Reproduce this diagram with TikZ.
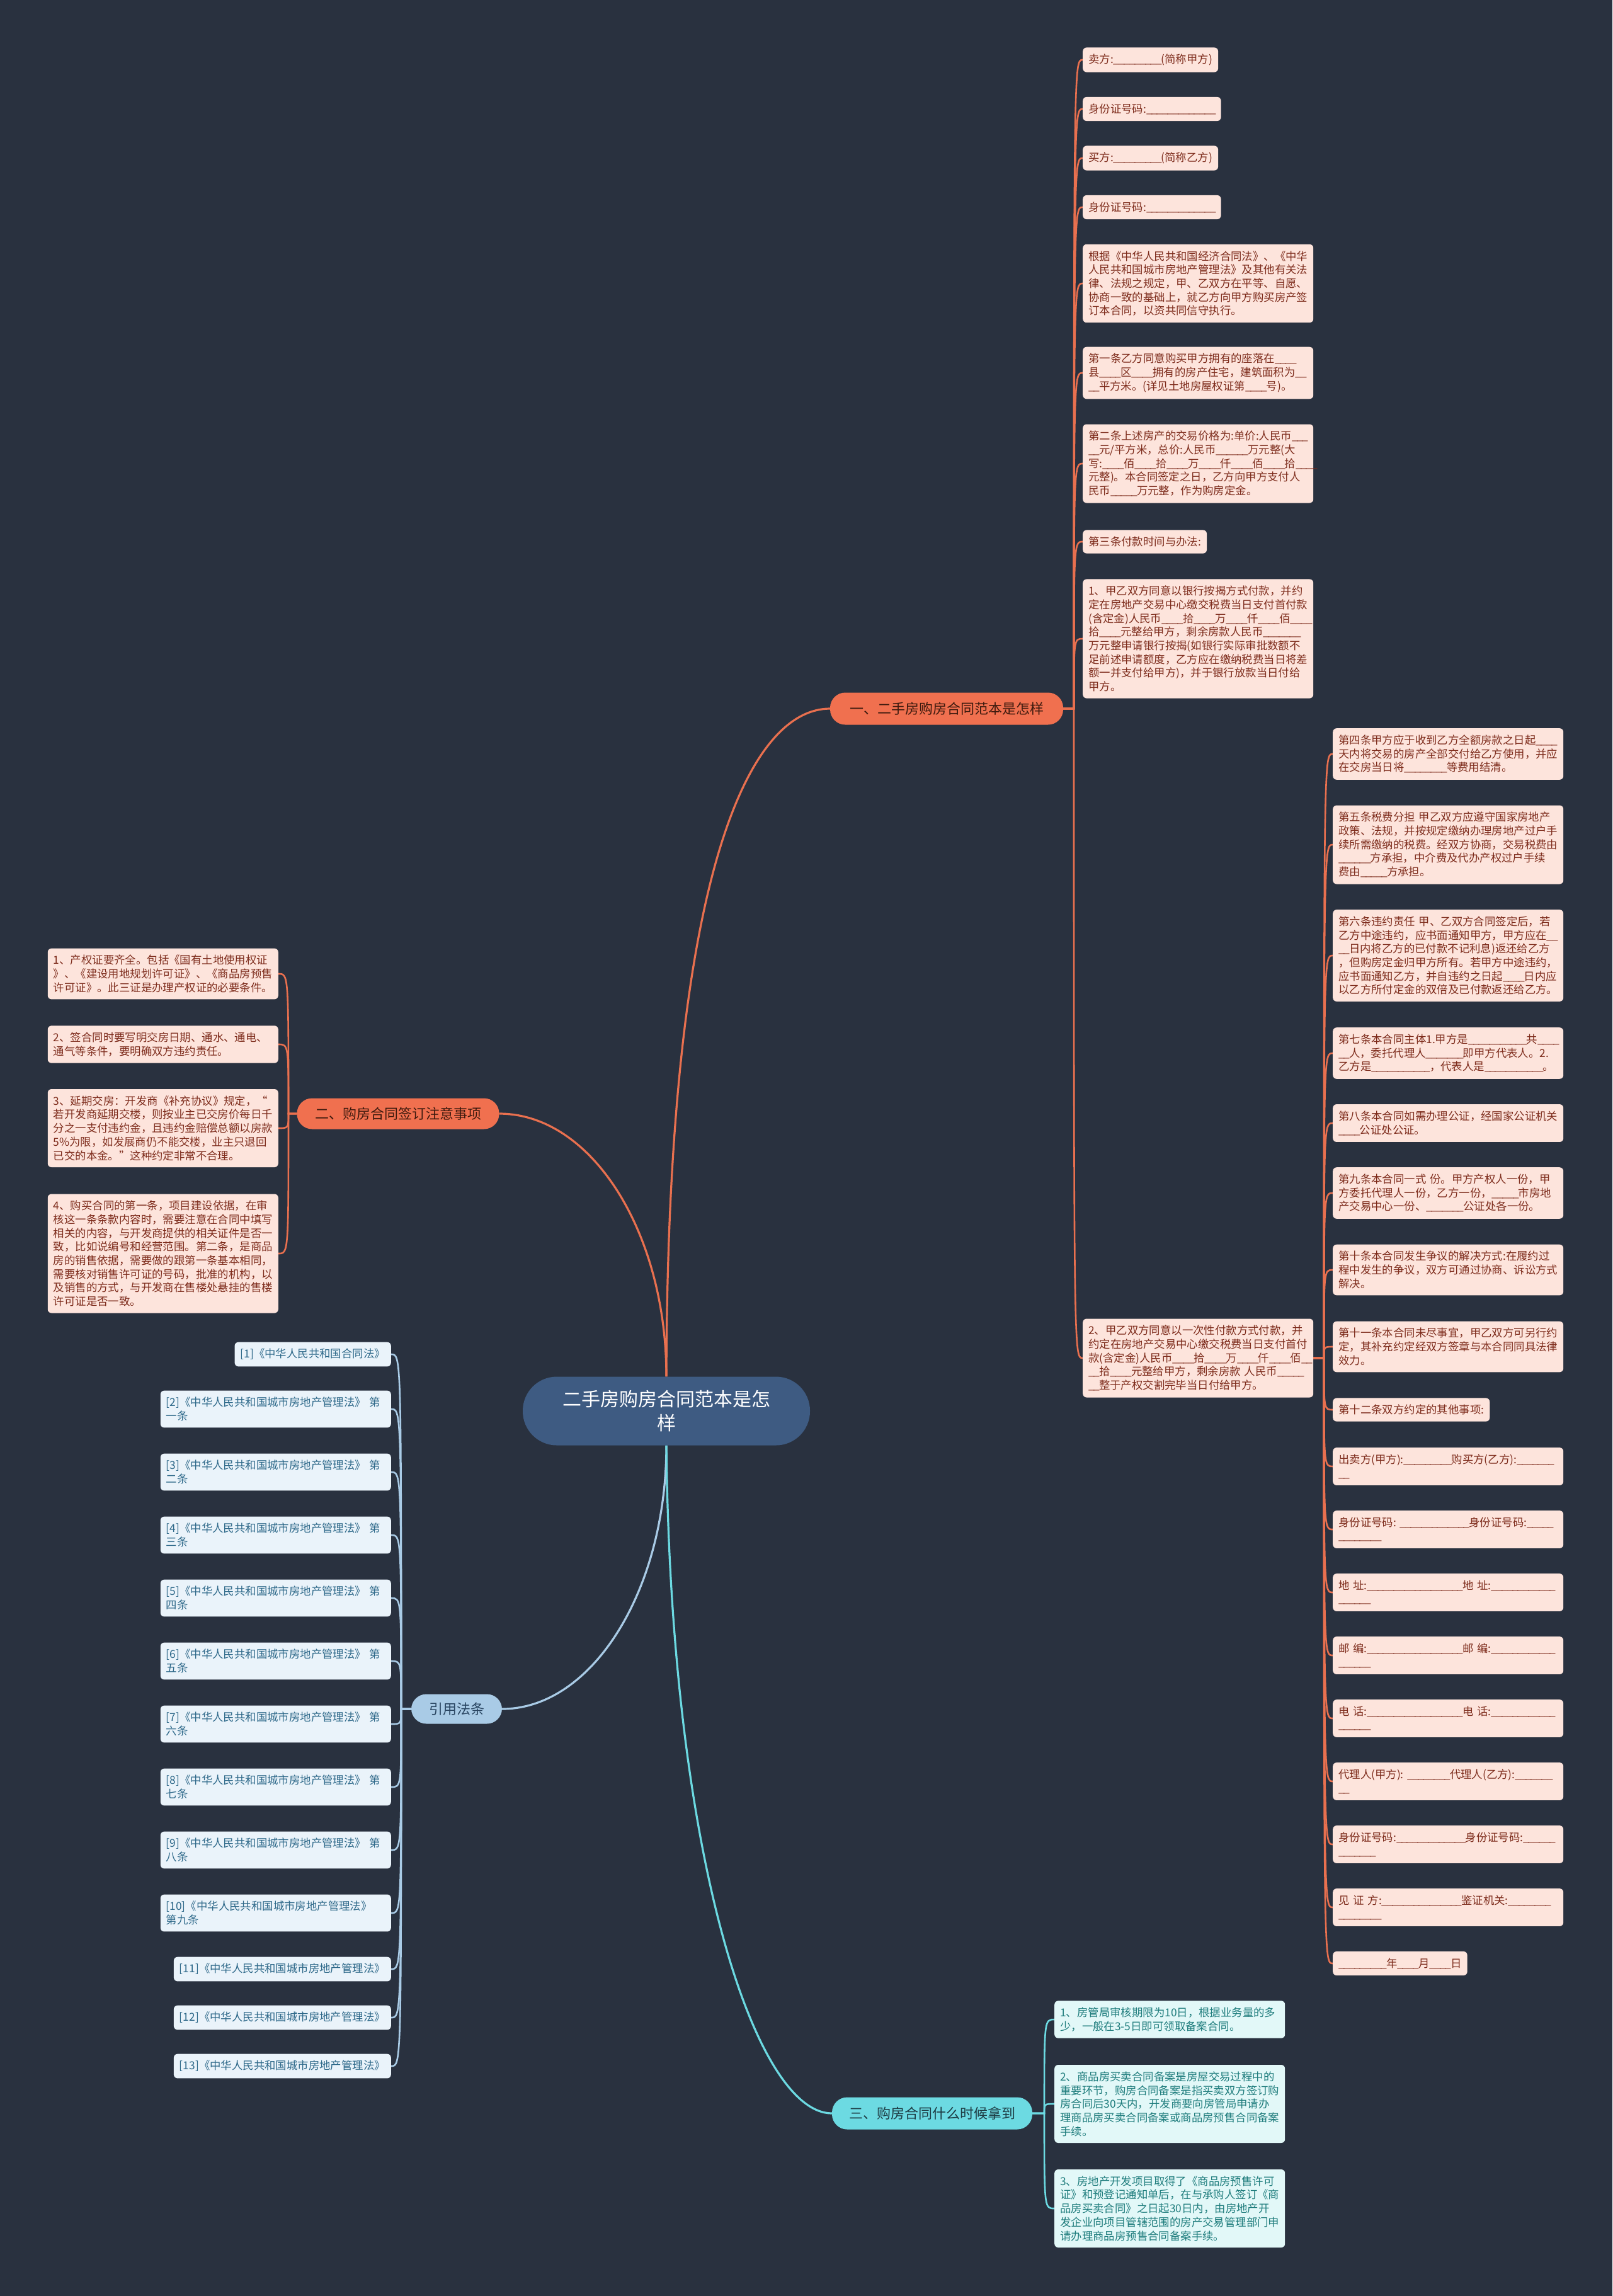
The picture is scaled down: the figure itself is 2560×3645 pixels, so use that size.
\documentclass[tikz,border=0pt]{standalone}
\usepackage{fontspec}
\setmainfont{Noto Sans CJK SC}
\ExplSyntaxOn
\cs_new:Npn \blk #1 {\prg_replicate:nn{#1}{\textunderscore\kern-1.3pt}}
\ExplSyntaxOff
\newcommand\chfs{\fontsize{17.4pt}{21.7pt}\selectfont}
\definecolor{bgc}{HTML}{29313F}
\definecolor{olin}{HTML}{E9704F}
\definecolor{ofil}{HTML}{F0704F}
\definecolor{otxt}{HTML}{3D1A0E}
\definecolor{pfil}{HTML}{FDE4DC}
\definecolor{ptxt}{HTML}{7E2C1C}
\definecolor{hubc}{HTML}{3E5B82}
\definecolor{blin}{HTML}{A9CBE6}
\definecolor{btxt}{HTML}{2A4662}
\definecolor{rfil}{HTML}{EAF3FA}
\definecolor{rtxt}{HTML}{2D6889}
\definecolor{clin}{HTML}{6CDAE2}
\definecolor{ctxt}{HTML}{1E3C44}
\definecolor{tfil}{HTML}{E2F8F8}
\definecolor{ttxt}{HTML}{1F7D7D}
\pgfdeclarelayer{back}
\pgfdeclarelayer{edges}
\pgfsetlayers{back,edges,main}
\tikzset{
  leafbase/.style={rounded corners=6pt, inner xsep=9pt, inner ysep=10.5pt, font=\chfs},
  leafo/.style={leafbase, fill=pfil, text=ptxt},
  leafr/.style={leafbase, fill=rfil, text=rtxt},
  leaft/.style={leafbase, fill=tfil, text=ttxt},
  widebox/.style={text width=348pt, align=left},
  branchbase/.style={rounded corners=24pt, inner sep=0pt, font=\fontsize{22pt}{26pt}\selectfont},
  brancho/.style={branchbase, fill=ofil, text=otxt},
  branchr/.style={branchbase, fill=blin, text=btxt},
  brancht/.style={branchbase, fill=clin, text=ctxt},
  hubnode/.style={rounded corners=54pt, fill=hubc, text=white, align=center,
    minimum width=456pt, minimum height=109pt, inner sep=0pt,
    font=\fontsize{30pt}{38pt}\selectfont},
  linko/.style={draw=olin, line width=2.6pt},
  linkr/.style={draw=blin, line width=2.6pt},
  linkt/.style={draw=clin, line width=2.6pt},
}
\begin{document}
\begin{tikzpicture}[x=1pt, y=-1pt]
\useasboundingbox (0,0) rectangle (2560,3645);
\begin{pgfonlayer}{back}
\fill[bgc] (0,0) rectangle (2560,3645);
\end{pgfonlayer}

% hub and branches
\node[hubnode] (hub) at (1058,2240) {二手房购房合同范本是怎\\样};
\node[brancho, minimum width=370pt, minimum height=51pt] (b1) at (1503,1125) {一、二手房购房合同范本是怎样};
\node[brancho, minimum width=321pt, minimum height=49pt] (b2) at (632,1768) {二、购房合同签订注意事项};
\node[brancht, minimum width=318pt, minimum height=51pt] (b3) at (1480,3355) {三、购房合同什么时候拿到};
\node[branchr, minimum width=144pt, minimum height=47pt] (b4) at (725,2713) {引用法条};

% section 1, column 1
\node[leafo, anchor=west] (n1) at (1719,95) {卖方:\blk{9}(简称甲方)};
\node[leafo, anchor=west] (n2) at (1719,173) {身份证号码:\blk{13}};
\node[leafo, anchor=west] (n3) at (1719,251) {买方:\blk{9}(简称乙方)};
\node[leafo, anchor=west] (n4) at (1719,329) {身份证号码:\blk{13}};
\node[leafo, widebox, anchor=west] (n5) at (1719,450) {根据《中华人民共和国经济合同法》、《中华\\人民共和国城市房地产管理法》及其他有关法\\律、法规之规定，甲、乙双方在平等、自愿、\\协商一致的基础上，就乙方向甲方购买房产签\\订本合同，以资共同信守执行。};
\node[leafo, widebox, anchor=west] (n6) at (1719,592) {第一条乙方同意购买甲方拥有的座落在\blk{4}\\县\blk{4}区\blk{4}拥有的房产住宅，建筑面积为\blk{2}\\\blk{2}平方米。(详见土地房屋权证第\blk{4}号)。};
\node[leafo, widebox, anchor=west] (n7) at (1719,736) {第二条上述房产的交易价格为:单价:人民币\blk{3}\\\blk{2}元/平方米，总价:人民币\blk{6}万元整(大\\写:\blk{4}佰\blk{4}拾\blk{4}万\blk{4}仟\blk{4}佰\blk{4}拾\blk{4}\\元整)。本合同签定之日，乙方向甲方支付人\\民币\blk{5}万元整，作为购房定金。};
\node[leafo, anchor=west] (n8) at (1719,860) {第三条付款时间与办法:};
\node[leafo, widebox, anchor=west] (n9) at (1719,1014) {1、甲乙双方同意以银行按揭方式付款，并约\\定在房地产交易中心缴交税费当日支付首付款\\(含定金)人民币\blk{4}拾\blk{4}万\blk{4}仟\blk{4}佰\blk{4}\\拾\blk{4}元整给甲方，剩余房款人民币\blk{7}\\万元整申请银行按揭(如银行实际审批数额不\\足前述申请额度，乙方应在缴纳税费当日将差\\额一并支付给甲方)，并于银行放款当日付给\\甲方。};
\node[leafo, widebox, anchor=west] (n10) at (1719,2156) {2、甲乙双方同意以一次性付款方式付款，并\\约定在房地产交易中心缴交税费当日支付首付\\款(含定金)人民币\blk{4}拾\blk{4}万\blk{4}仟\blk{4}佰\blk{2}\\\blk{2}拾\blk{4}元整给甲方，剩余房款~人民币\blk{5}\\\blk{2}整于产权交割完毕当日付给甲方。};

% section 1, column 2
\node[leafo, widebox, anchor=west] (m4) at (2116,1197) {第四条甲方应于收到乙方全额房款之日起\blk{4}\\天内将交易的房产全部交付给乙方使用，并应\\在交房当日将\blk{8}等费用结清。};
\node[leafo, widebox, anchor=west] (m5) at (2116,1341) {第五条税费分担~甲乙双方应遵守国家房地产\\政策、法规，并按规定缴纳办理房地产过户手\\续所需缴纳的税费。经双方协商，交易税费由\\\blk{6}方承担，中介费及代办产权过户手续\\费由\blk{5}方承担。};
\node[leafo, widebox, anchor=west] (m6) at (2116,1517) {第六条违约责任~甲、乙双方合同签定后，若\\乙方中途违约，应书面通知甲方，甲方应在\blk{2}\\\blk{2}日内将乙方的已付款不记利息)返还给乙方\\，但购房定金归甲方所有。若甲方中途违约，\\应书面通知乙方，并自违约之日起\blk{4}日内应\\以乙方所付定金的双倍及已付款返还给乙方。};
\node[leafo, widebox, anchor=west] (m7) at (2116,1672) {第七条本合同主体1.甲方是\blk{11}共\blk{4}\\\blk{2}人，委托代理人\blk{7}即甲方代表人。2.\\乙方是\blk{11}，代表人是\blk{11}。};
\node[leafo, widebox, anchor=west] (m8) at (2116,1783) {第八条本合同如需办理公证，经国家公证机关\\\blk{4}公证处公证。};
\node[leafo, widebox, anchor=west] (m9) at (2116,1894) {第九条本合同一式~份。甲方产权人一份，甲\\方委托代理人一份，乙方一份，\blk{5}市房地\\产交易中心一份、\blk{7}公证处各一份。};
\node[leafo, widebox, anchor=west] (m10) at (2116,2016) {第十条本合同发生争议的解决方式:在履约过\\程中发生的争议，双方可通过协商、诉讼方式\\解决。};
\node[leafo, widebox, anchor=west] (m11) at (2116,2138) {第十一条本合同未尽事宜，甲乙双方可另行约\\定，其补充约定经双方签章与本合同同具法律\\效力。};
\node[leafo, anchor=west] (m12) at (2116,2238) {第十二条双方约定的其他事项:};
\node[leafo, widebox, anchor=west] (m13) at (2116,2328) {出卖方(甲方):\blk{9}购买方(乙方):\blk{7}\\\blk{2}};
\node[leafo, widebox, anchor=west] (m14) at (2116,2428) {身份证号码:~\blk{13}身份证号码:\blk{5}\\\blk{8}};
\node[leafo, widebox, anchor=west] (m15) at (2116,2528) {地~址:\blk{18}地~址:\blk{12}\\\blk{6}};
\node[leafo, widebox, anchor=west] (m16) at (2116,2628) {邮~编:\blk{18}邮~编:\blk{12}\\\blk{6}};
\node[leafo, widebox, anchor=west] (m17) at (2116,2728) {电~话:\blk{18}电~话:\blk{12}\\\blk{6}};
\node[leafo, widebox, anchor=west] (m18) at (2116,2828) {代理人(甲方):~\blk{8}代理人(乙方):\blk{7}\\\blk{2}};
\node[leafo, widebox, anchor=west] (m19) at (2116,2928) {身份证号码:\blk{13}身份证号码:\blk{6}\\\blk{7}};
\node[leafo, widebox, anchor=west] (m20) at (2116,3028) {见~证~方:\blk{15}鉴证机关:\blk{8}\\\blk{8}};
\node[leafo, anchor=west] (m21) at (2116,3117) {\blk{9}年\blk{4}月\blk{4}日};

% section 2
\node[leafo, widebox, anchor=east] (l1) at (442,1546) {1、产权证要齐全。包括《国有土地使用权证\\》、《建设用地规划许可证》、《商品房预售\\许可证》。此三证是办理产权证的必要条件。};
\node[leafo, widebox, anchor=east] (l2) at (442,1658) {2、签合同时要写明交房日期、通水、通电、\\通气等条件，要明确双方违约责任。};
\node[leafo, widebox, anchor=east] (l3) at (442,1791) {3、延期交房：开发商《补充协议》规定，“\\若开发商延期交楼，则按业主已交房价每日千\\分之一支付违约金，且违约金赔偿总额以房款\\5\%为限，如发展商仍不能交楼，业主只退回\\已交的本金。”这种约定非常不合理。};
\node[leafo, widebox, anchor=east] (l4) at (442,1990) {4、购买合同的第一条，项目建设依据，在审\\核这一条条款内容时，需要注意在合同中填写\\相关的内容，与开发商提供的相关证件是否一\\致，比如说编号和经营范围。第二条，是商品\\房的销售依据，需要做的跟第一条基本相同，\\需要核对销售许可证的号码，批准的机构，以\\及销售的方式，与开发商在售楼处悬挂的售楼\\许可证是否一致。};

% references
\node[leafr, anchor=east] (r1) at (621,2150) {[1]《中华人民共和国合同法》};
\node[leafr, widebox, anchor=east] (r2) at (621,2237) {[2]《中华人民共和国城市房地产管理法》~第\\一条};
\node[leafr, widebox, anchor=east] (r3) at (621,2337) {[3]《中华人民共和国城市房地产管理法》~第\\二条};
\node[leafr, widebox, anchor=east] (r4) at (621,2437) {[4]《中华人民共和国城市房地产管理法》~第\\三条};
\node[leafr, widebox, anchor=east] (r5) at (621,2537) {[5]《中华人民共和国城市房地产管理法》~第\\四条};
\node[leafr, widebox, anchor=east] (r6) at (621,2637) {[6]《中华人民共和国城市房地产管理法》~第\\五条};
\node[leafr, widebox, anchor=east] (r7) at (621,2737) {[7]《中华人民共和国城市房地产管理法》~第\\六条};
\node[leafr, widebox, anchor=east] (r8) at (621,2837) {[8]《中华人民共和国城市房地产管理法》~第\\七条};
\node[leafr, widebox, anchor=east] (r9) at (621,2937) {[9]《中华人民共和国城市房地产管理法》~第\\八条};
\node[leafr, widebox, anchor=east] (r10) at (621,3037) {[10]《中华人民共和国城市房地产管理法》\\第九条};
\node[leafr, anchor=east] (r11) at (621,3126) {[11]《中华人民共和国城市房地产管理法》};
\node[leafr, anchor=east] (r12) at (621,3203) {[12]《中华人民共和国城市房地产管理法》};
\node[leafr, anchor=east] (r13) at (621,3280) {[13]《中华人民共和国城市房地产管理法》};

% section 3
\node[leaft, widebox, anchor=west] (t1) at (1674,3206) {1、房管局审核期限为10日，根据业务量的多\\少，一般在3-5日即可领取备案合同。};
\node[leaft, widebox, anchor=west] (t2) at (1674,3340) {2、商品房买卖合同备案是房屋交易过程中的\\重要环节，购房合同备案是指买卖双方签订购\\房合同后30天内，开发商要向房管局申请办\\理商品房买卖合同备案或商品房预售合同备案\\手续。};
\node[leaft, widebox, anchor=west] (t3) at (1674,3506) {3、房地产开发项目取得了《商品房预售许可\\证》和预登记通知单后，在与承购人签订《商\\品房买卖合同》之日起30日内，由房地产开\\发企业向项目管辖范围的房产交易管理部门申\\请办理商品房预售合同备案手续。};

% connectors
\coordinate (s1) at (1705,1125);
\coordinate (s2) at (2102,2156);
\coordinate (s3) at (458,1768);
\coordinate (s4) at (637,2713);
\coordinate (s5) at (1658,3355);
\begin{pgfonlayer}{edges}
\draw[linko, line width=3.2pt] (hub.north) .. controls (1060,1350) and (1200,1125) .. (b1.west);
\draw[linko, line width=3.2pt] (hub.north) .. controls (1058,1956) and (939,1768) .. (b2.east);
\draw[linkr, line width=3.2pt] (hub.south) .. controls (1058,2525) and (940,2713) .. (b4.east);
\draw[linkt, line width=3.2pt] (hub.south) .. controls (1065,2950) and (1200,3355) .. (b3.west);
\foreach \n in {n1,n2,n3,n4,n5,n6,n7,n8,n9,n10}
  \draw[linko] (b1.east) -- (s1) .. controls (s1 |- \n.west) .. (\n.west);
\foreach \n in {m4,m5,m6,m7,m8,m9,m10,m11,m12,m13,m14,m15,m16,m17,m18,m19,m20,m21}
  \draw[linko] (n10.east) -- (s2) .. controls (s2 |- \n.west) .. (\n.west);
\foreach \n in {l1,l2,l3,l4}
  \draw[linko] (b2.west) -- (s3) .. controls (s3 |- \n.east) .. (\n.east);
\foreach \n in {r1,r2,r3,r4,r5,r6,r7,r8,r9,r10,r11,r12,r13}
  \draw[linkr] (b4.west) -- (s4) .. controls (s4 |- \n.east) .. (\n.east);
\foreach \n in {t1,t2,t3}
  \draw[linkt] (b3.east) -- (s5) .. controls (s5 |- \n.west) .. (\n.west);
\end{pgfonlayer}
\end{tikzpicture}
\end{document}
